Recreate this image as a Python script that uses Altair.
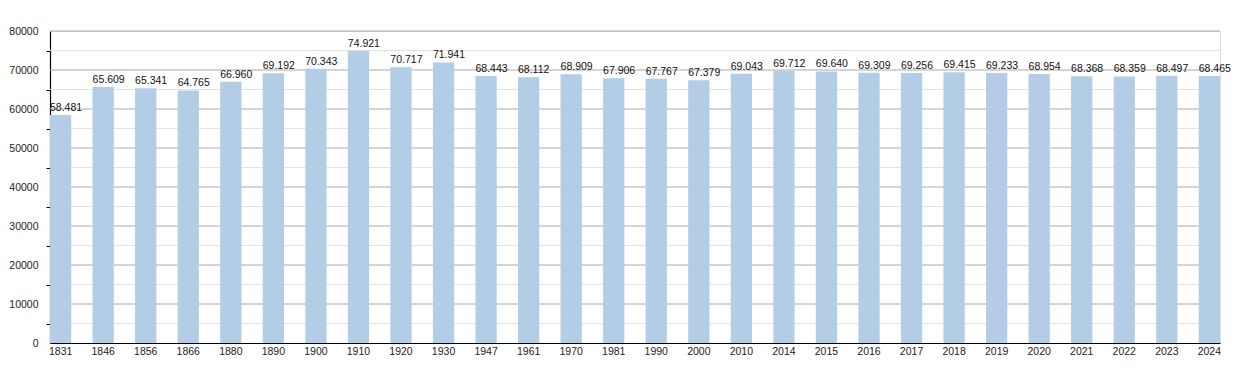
import altair as alt
import pandas as pd

years = ["1831", "1846", "1856", "1866", "1880", "1890", "1900", "1910", "1920", "1930",
         "1947", "1961", "1970", "1981", "1990", "2000", "2010", "2014", "2015", "2016",
         "2017", "2018", "2019", "2020", "2021", "2022", "2023", "2024"]
population = [58481, 65609, 65341, 64765, 66960, 69192, 70343, 74921, 70717, 71941,
              68443, 68112, 68909, 67906, 67767, 67379, 69043, 69712, 69640, 69309,
              69256, 69415, 69233, 68954, 68368, 68359, 68497, 68465]
major_grid = [10000, 20000, 30000, 40000, 50000, 60000, 70000, 80000]
minor_grid = [5000, 15000, 25000, 35000, 45000, 55000, 65000, 75000]
y_ticks = list(range(0, 80001, 5000))

df = pd.DataFrame({"year": years, "pop": population})
df["label"] = [f"{v:,}".replace(",", ".") for v in population]

FONT = "Liberation Sans"
FS = 10.5

x_scale = alt.Scale(paddingInner=0.5, paddingOuter=0.0)
y_scale = alt.Scale(domain=[0, 80000], nice=False)

y_axis = alt.Axis(title=None, values=y_ticks, grid=False, labelOverlap=False,
                  labelExpr="datum.value % 10000 === 0 ? datum.value : ''",
                  format="d", domainColor="#000000", domainWidth=1.2,
                  tickSize=4, tickColor="#000000",
                  tickOpacity={"condition": {"test": "datum.value % 10000 === 0", "value": 0}, "value": 1},
                  labelPadding=8, labelFont=FONT, labelFontSize=FS,
                  labelColor="#222222")

minor = alt.Chart(pd.DataFrame({"g": minor_grid})).mark_rule(
    color="#e2e2e2", strokeWidth=1).encode(y=alt.Y("g:Q", scale=y_scale, axis=y_axis, title=None))
major = alt.Chart(pd.DataFrame({"g": major_grid})).mark_rule(
    color="#aaaaaa", strokeWidth=1).encode(y=alt.Y("g:Q", scale=y_scale, axis=y_axis, title=None))

base = alt.Chart(df)

bars = base.mark_bar(color="#b3cde6").encode(
    x=alt.X("year:N", sort=None, scale=x_scale,
            axis=alt.Axis(title=None, labelAngle=0, ticks=False, labelPadding=3,
                          domainColor="#000000", domainWidth=1.2, labelFont=FONT,
                          labelFontSize=FS, labelColor="#222222", grid=False)),
    y=alt.Y("pop:Q", scale=y_scale, axis=y_axis, title=None),
)

labels = base.mark_text(align="left", baseline="alphabetic", dy=-4, font=FONT,
                        fontSize=FS, color="#111111").encode(
    x=alt.X("year:N", sort=None, scale=x_scale, bandPosition=0),
    y=alt.Y("pop:Q", scale=y_scale, axis=y_axis, title=None),
    text="label:N",
)

chart = alt.layer(minor, major, bars, labels).properties(
    width=1170, height=312,
    autosize=alt.AutoSizeParams(type="none"),
    padding={"left": 42, "top": 23, "right": 22, "bottom": 20},
).configure_view(stroke=None).configure(background="#ffffff")

chart.save("out.html", embed_options={"renderer": "svg", "actions": False})
